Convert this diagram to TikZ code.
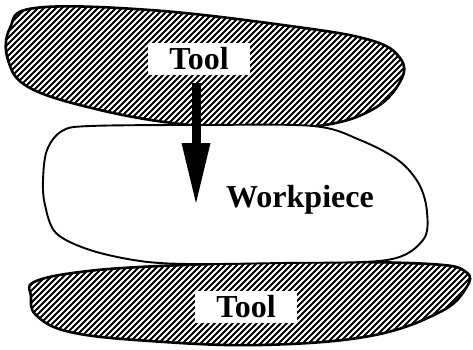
\documentclass[tikz,border=0pt]{standalone}
\usepackage{fontspec}
\setmainfont{Liberation Serif}
\begin{document}
\begin{tikzpicture}[x=1pt,y=-1pt,
  outline/.style={line width=2.6pt, line join=round},
  hatchline/.style={line width=1.9pt},
  lbl/.style={fill=white, font=\bfseries\fontsize{32}{32}\selectfont, minimum width=102pt, minimum height=32pt, inner sep=0pt}]
\useasboundingbox (0,0) rectangle (473,349);
% --- upper tool ---
\def\toptool{plot[smooth cycle, tension=0.65] coordinates {(10,28) (35,8) (150,10) (290,26) (370,40) (400,58) (401,80) (375,108) (325,125) (250,128) (180,124) (100,110) (30,88) (8,60)}}
\begin{scope}
  \clip \toptool;
  \foreach \i in {-400,-394,...,480} \draw[hatchline] (\i,350) -- (\i+350,0);
\end{scope}
\draw[outline] \toptool;
% --- lower tool ---
\def\bottool{plot[smooth cycle, tension=0.65] coordinates {(34,282) (80,272) (160,266) (300,262) (430,264) (466,272) (466,288) (440,312) (370,336) (260,345) (150,341) (70,332) (36,315) (31,296)}}
\begin{scope}
  \clip \bottool;
  \foreach \i in {-400,-394,...,480} \draw[hatchline] (\i,350) -- (\i+350,0);
\end{scope}
\draw[outline] \bottool;
% --- workpiece ---
\draw[line width=1.9pt, fill=white] plot[smooth cycle, tension=0.55] coordinates {(62,131) (47,150) (43,180) (45,205) (56,233) (90,250) (140,261) (190,264) (280,263) (387,260) (423,240) (427,212) (419,184) (398,160) (360,140) (313,126) (200,125) (90,126)};
% --- arrow ---
\coordinate (atop) at (196,83);
\coordinate (atip) at (196,203);
\fill ([xshift=-4.5pt]atop) rectangle ([xshift=4.5pt,yshift=58pt]atip);
\fill ([xshift=-14.5pt,yshift=60pt]atip) -- ([xshift=14.5pt,yshift=60pt]atip) -- (atip) -- cycle;
% --- labels ---
\node[lbl] (tool1) at (199,59) {Tool};
\node[lbl] (tool2) at (246,307) {Tool};
\node[font=\bfseries\fontsize{32}{32}\selectfont] (wp) at (300,200) {Workpiece};
\end{tikzpicture}
\end{document}
